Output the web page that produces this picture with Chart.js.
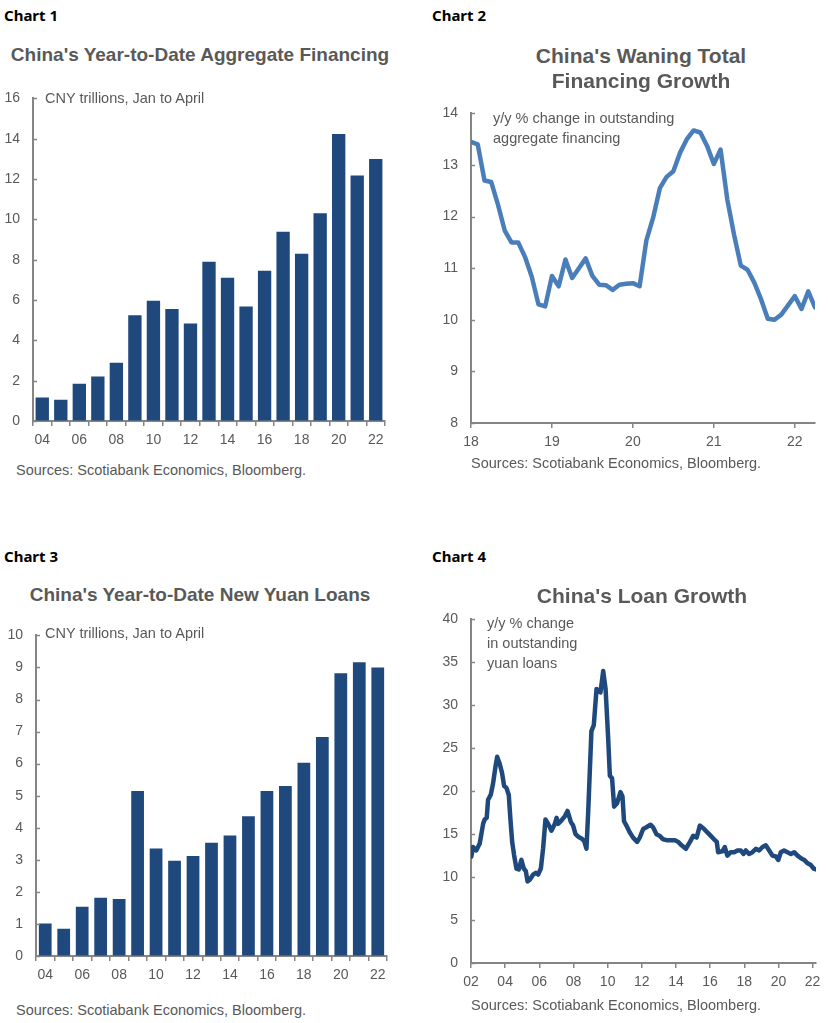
<!DOCTYPE html>
<html>
<head>
<meta charset="utf-8">
<title>China financing and loans</title>
<script src="https://cdn.jsdelivr.net/npm/chart.js"></script>
<style>
  body { margin: 0; background: #fff; width: 828px; height: 1023px; position: relative; overflow: hidden; }
  .box { position: absolute; }
  .txt { position: absolute; white-space: nowrap; font-family: "Liberation Sans", Arial, sans-serif; color: #595959; }
</style>
</head>
<body>
<div id="c1" class="box"><canvas id="cv1"></canvas></div>
<div id="c2" class="box"><canvas id="cv2"></canvas></div>
<div id="c3" class="box"><canvas id="cv3"></canvas></div>
<div id="c4" class="box"><canvas id="cv4"></canvas></div>
<script>
// chart 1 and 3: Jan-April year-to-date totals, CNY trillions
const barYears = ['04','05','06','07','08','09','10','11','12','13','14','15','16','17','18','19','20','21','22'];
const financingYtd = [1.16, 1.05, 1.85, 2.21, 2.89, 5.24, 5.97, 5.56, 4.84, 7.9, 7.11, 5.68, 7.45, 9.39, 8.3, 10.3, 14.24, 12.18, 13.0];
const loansYtd = [1.01, 0.85, 1.54, 1.82, 1.78, 5.15, 3.35, 2.97, 3.12, 3.53, 3.76, 4.36, 5.15, 5.3, 6.03, 6.83, 8.82, 9.16, 9.0];

// chart 2: monthly, Jan 2018 .. Apr 2022, y/y %
const tsfGrowth = [
  13.45, 13.40, 12.70, 12.67, 12.23, 11.73, 11.50, 11.50, 11.22, 10.84, 10.30, 10.26,
  10.85, 10.65, 11.17, 10.81, 11.00, 11.19, 10.85, 10.68, 10.67, 10.58, 10.68, 10.70,
  10.71, 10.65, 11.54, 11.98, 12.55, 12.77, 12.88, 13.24, 13.50, 13.67, 13.63, 13.37,
  13.02, 13.30, 12.33, 11.65, 11.05, 10.97, 10.72, 10.40, 10.02, 10.00, 10.10, 10.28,
  10.46, 10.21, 10.55, 10.24
];
const tsfStartYear = 18;

// chart 4: y/y % change in yuan loans (decimal years)
const loanDates = [2002.02, 2002.12, 2002.31, 2002.51, 2002.71, 2002.80, 2002.92, 2003.00, 2003.16, 2003.29,
  2003.43, 2003.53, 2003.68, 2003.82, 2003.94, 2004.07, 2004.21, 2004.31, 2004.41, 2004.52,
  2004.66, 2004.80, 2004.95, 2005.09, 2005.21, 2005.31, 2005.44, 2005.64, 2005.79, 2005.93,
  2006.09, 2006.22, 2006.36, 2006.52, 2006.71, 2006.91, 2007.01, 2007.10, 2007.30, 2007.50,
  2007.65, 2007.85, 2007.98, 2008.12, 2008.28, 2008.47, 2008.63, 2008.76, 2008.86, 2009.05,
  2009.19, 2009.35, 2009.58, 2009.74, 2009.88, 2010.03, 2010.13, 2010.26, 2010.38, 2010.55,
  2010.75, 2010.87, 2010.96, 2011.10, 2011.30, 2011.49, 2011.73, 2011.88, 2012.08, 2012.27,
  2012.51, 2012.66, 2012.86, 2013.05, 2013.25, 2013.45, 2013.64, 2013.94, 2014.13, 2014.33,
  2014.58, 2014.82, 2015.01, 2015.21, 2015.40, 2015.65, 2015.84, 2016.04, 2016.23, 2016.39,
  2016.47, 2016.72, 2016.86, 2017.01, 2017.21, 2017.41, 2017.60, 2017.80, 2017.95, 2018.09,
  2018.28, 2018.48, 2018.68, 2018.87, 2019.07, 2019.26, 2019.46, 2019.65, 2019.85, 2019.99,
  2020.14, 2020.33, 2020.53, 2020.73, 2020.92, 2021.12, 2021.32, 2021.51, 2021.71, 2021.90,
  2022.06, 2022.20];
const loanGrowth = [12.4, 13.5, 13.1, 13.9, 16.2, 16.7, 16.9, 19.0, 19.6, 20.9,
  22.8, 24.0, 23.2, 22.1, 20.6, 20.4, 19.6, 16.7, 14.1, 12.6,
  11.0, 10.9, 12.0, 11.0, 10.7, 9.5, 9.7, 10.3, 10.5, 10.3,
  11.0, 13.3, 16.7, 16.2, 15.4, 16.2, 16.9, 16.2, 16.6, 17.1,
  17.7, 16.4, 16.0, 15.0, 14.7, 14.5, 14.2, 13.3, 17.5, 27.0,
  27.7, 31.9, 31.5, 34.0, 31.9, 26.2, 21.8, 21.5, 18.2, 18.6,
  19.9, 19.4, 16.5, 16.0, 15.2, 14.6, 14.1, 14.6, 15.6, 15.8,
  16.1, 15.8, 15.0, 14.8, 14.4, 14.3, 14.3, 14.3, 14.1, 13.7,
  13.3, 14.1, 14.8, 14.6, 16.0, 15.6, 15.2, 14.8, 14.4, 14.1,
  12.9, 13.0, 13.5, 12.5, 12.9, 12.9, 13.1, 13.1, 12.7, 13.1,
  12.7, 12.9, 13.3, 13.1, 13.5, 13.7, 13.1, 12.5, 12.4, 12.0,
  12.9, 13.1, 12.9, 12.7, 12.9, 12.5, 12.2, 12.0, 11.6, 11.4,
  11.0, 10.9];

const navy = '#1f497d';
const lightBlue = '#4a7ebb';
const axisGray = '#858585';
const textGray = '#595959';

Chart.defaults.font.family = '"Liberation Sans", Arial, sans-serif';
Chart.defaults.font.size = 14;
Chart.defaults.color = textGray;

// small tick marks on the inside of the y axis
const innerTicks = {
  id: 'innerTicks',
  afterDraw(chart) {
    const y = chart.scales.y, ctx = chart.ctx, left = chart.chartArea.left;
    ctx.save();
    ctx.strokeStyle = axisGray;
    ctx.lineWidth = 1.5;
    y.ticks.forEach((t, i) => {
      const py = Math.round(y.getPixelForTick(i)) + 0.5;
      ctx.beginPath();
      ctx.moveTo(left, py);
      ctx.lineTo(left + 4, py);
      ctx.stroke();
    });
    ctx.restore();
  }
};

function yScale(min, max, step) {
  return {
    min: min, max: max,
    ticks: { stepSize: step, padding: 13 },
    grid: { display: true, drawOnChartArea: false, drawTicks: false },
    border: { color: axisGray, width: 2 }
  };
}

function makeChart(id, plot, config) {
  const padL = 45, padT = 15, padR = 15, padB = 35;
  const w = plot.r - plot.l + padL + padR;
  const h = plot.b - plot.t + padT + padB;
  const div = document.getElementById('c' + id);
  div.style.left = (plot.l - padL) + 'px';
  div.style.top = (plot.t - padT) + 'px';
  div.style.width = w + 'px';
  div.style.height = h + 'px';
  const cv = document.getElementById('cv' + id);
  cv.width = w; cv.height = h;
  config.options.responsive = false;
  config.options.animation = false;
  config.options.layout = { padding: { top: padT, right: padR, left: 0, bottom: 0 } };
  config.options.plugins = { legend: { display: false }, tooltip: { enabled: false } };
  config.options.scales.y.afterFit = s => { s.width = padL; };
  config.options.scales.x.afterFit = s => { s.height = padB; };
  config.plugins = [innerTicks];
  return new Chart(cv.getContext('2d'), config);
}

function barConfig(values, ymax, ystep, barPct) {
  return {
    type: 'bar',
    data: {
      labels: barYears,
      datasets: [{ data: values, backgroundColor: navy, barPercentage: barPct, categoryPercentage: 1 }]
    },
    options: {
      scales: {
        x: {
          ticks: { autoSkip: false, maxRotation: 0, padding: 6,
            callback: (v, i) => (i % 2 === 0 ? barYears[i] : '') },
          grid: { offset: true, drawOnChartArea: false, drawTicks: true, tickLength: 5, color: axisGray, lineWidth: 1.5 },
          border: { color: axisGray, width: 2 }
        },
        y: yScale(0, ymax, ystep)
      }
    }
  };
}

function lineConfig(points, color, width, xmin, xmax, xstep, fmt, ymin, ymax, ystep) {
  return {
    type: 'line',
    data: {
      datasets: [{ data: points, borderColor: color, borderWidth: width, pointRadius: 0, tension: 0,
        borderJoinStyle: 'round', borderCapStyle: 'round' }]
    },
    options: {
      scales: {
        x: {
          type: 'linear', min: xmin, max: xmax,
          ticks: { stepSize: xstep, padding: 6, maxRotation: 0, autoSkip: false, callback: fmt },
          afterBuildTicks: s => {
            const t = [];
            for (let v = Math.ceil(xmin); v <= xmax; v += xstep) t.push({ value: v });
            s.ticks = t;
          },
          grid: { drawOnChartArea: false, drawTicks: true, tickLength: 5, color: axisGray, lineWidth: 1.5 },
          border: { color: axisGray, width: 2 }
        },
        y: yScale(ymin, ymax, ystep)
      }
    }
  };
}

makeChart(1, { l: 33, r: 385, t: 92, b: 421 }, barConfig(financingYtd, 16, 2, 0.72));
makeChart(3, { l: 36, r: 387, t: 629, b: 956 }, barConfig(loansYtd, 10, 1, 0.69));

const tsfPoints = tsfGrowth.map((v, i) => ({ x: tsfStartYear + i / 12, y: v }));
makeChart(2, { l: 471, r: 815, t: 107, b: 423 },
  lineConfig(tsfPoints, lightBlue, 4.5, 18, 22.25, 1, v => String(v), 8, 14, 1));

const loanPoints = loanDates.map((d, i) => ({ x: d, y: loanGrowth[i] }));
makeChart(4, { l: 471, r: 816, t: 613, b: 963 },
  lineConfig(loanPoints, navy, 4.5, 2002, 2022.2, 2, v => String(v % 100).padStart(2, '0'), 0, 40, 5));

// text
function addText(str, x, cy, size, opts) {
  opts = opts || {};
  const d = document.createElement('div');
  d.className = 'txt';
  d.textContent = str;
  const lh = Math.round(size * 1.2);
  d.style.fontSize = size + 'px';
  d.style.lineHeight = lh + 'px';
  d.style.top = (cy - lh / 2) + 'px';
  d.style.left = x + 'px';
  if (opts.center) d.style.transform = 'translateX(-50%)';
  if (opts.bold) d.style.fontWeight = 'bold';
  if (opts.family) d.style.fontFamily = opts.family;
  if (opts.color) d.style.color = opts.color;
  document.body.appendChild(d);
}

const labelFont = '"Noto Sans", "Open Sans", sans-serif';
addText('Chart 1', 4, 15, 15, { bold: true, family: labelFont, color: '#000' });
addText('Chart 2', 432, 15, 15, { bold: true, family: labelFont, color: '#000' });
addText('Chart 3', 4, 556, 15, { bold: true, family: labelFont, color: '#000' });
addText('Chart 4', 432, 556, 15, { bold: true, family: labelFont, color: '#000' });

addText("China's Year-to-Date Aggregate Financing", 200, 54, 19, { bold: true, center: true });
addText("China's Waning Total", 641, 55, 21, { bold: true, center: true });
addText('Financing Growth', 641, 80, 21, { bold: true, center: true });
addText("China's Year-to-Date New Yuan Loans", 200, 594, 19, { bold: true, center: true });
addText("China's Loan Growth", 642, 595, 21, { bold: true, center: true });

addText('CNY trillions, Jan to April', 45, 98, 14.5);
addText('y/y % change in outstanding', 493, 118, 14.5);
addText('aggregate financing', 493, 138, 14.5);
addText('CNY trillions, Jan to April', 45, 633, 14.5);
addText('y/y % change', 487, 623, 14.5);
addText('in outstanding', 487, 643, 14.5);
addText('yuan loans', 487, 663, 14.5);

addText('Sources: Scotiabank Economics, Bloomberg.', 16, 470, 14.5);
addText('Sources: Scotiabank Economics, Bloomberg.', 471, 463, 14.5);
addText('Sources: Scotiabank Economics, Bloomberg.', 16, 1010, 14.5);
addText('Sources: Scotiabank Economics, Bloomberg.', 471, 1005, 14.5);
</script>
</body>
</html>
